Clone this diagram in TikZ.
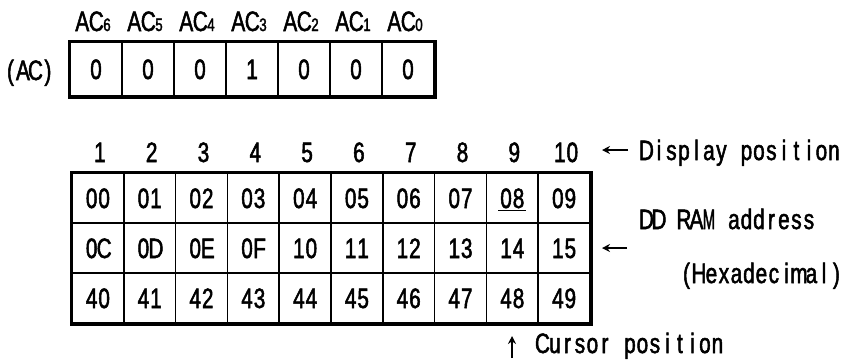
\documentclass[tikz,border=0pt]{standalone}
\usepackage{fontspec}
\newfontfamily\jfont[FakeStretch=0.74,FakeBold=1.8]{Liberation Sans}
\usetikzlibrary{arrows.meta}
\newlength\monow
\setlength\monow{12.5pt}
\def\monoloop#1{\ifx#1\relax\else\makebox[\monow][c]{#1}\expandafter\monoloop\fi}
\newcommand\mono[1]{\expandafter\monoloop#1\relax}
\newcommand\narrowM{\scalebox{0.72}[1]{M}}
\begin{document}
\begin{tikzpicture}[x=1pt,y=-1pt,
  lbl/.style={font=\fontsize{28}{28}\selectfont\jfont, inner sep=0pt, anchor=base},
  cell/.style={draw, line width=1.5pt, font=\fontsize{28}{28}\selectfont\jfont, inner sep=0pt,
    minimum width=51.8pt, minimum height=50pt, text height=20pt, text depth=0pt},
  accell/.style={cell, minimum width=52pt, minimum height=54pt},
  outer/.style={line width=3.5pt},
  arr/.style={line width=2pt, -{Stealth[length=8pt,width=8pt]}}]
\useasboundingbox (0,0) rectangle (848,360);
% AC register
\foreach \s [count=\i] in {6,5,4,3,2,1,0}
  \node[lbl] (acl\i) at ({70+52*(\i-0.5)-3},31) {\setlength\monow{14pt}\mono{AC}{\fontsize{18}{18}\selectfont\jfont\s}};
\node[lbl, anchor=base west] (aclabel) at (4,80) {\mono{(AC)}};
\foreach \v [count=\i] in {0,0,0,1,0,0,0}
  \node[accell] (ac\i) at ({70+52*(\i-0.5)},69) {\v};
\draw[outer] (ac1.north west) rectangle (ac7.south east);
% display positions
\foreach \i in {1,...,10}
  \node[lbl] (pos\i) at ({72+51.8*(\i-0.5)+2},162) {\mono{\i}};
% DD RAM table
\foreach \v [count=\i] in {00,01,02,03,04,05,06,07,08,09}
  \node[cell] (a\i) at ({72+51.8*(\i-0.5)},198) {\mono{\v}};
\foreach \v [count=\i] in {0C,0D,0E,0F,10,11,12,13,14,15}
  \node[cell] (b\i) at ({72+51.8*(\i-0.5)},248) {\mono{\v}};
\foreach \v [count=\i] in {40,41,42,43,44,45,46,47,48,49}
  \node[cell] (c\i) at ({72+51.8*(\i-0.5)},298) {\mono{\v}};
\draw[outer] (a1.north west) rectangle (c10.south east);
\draw[line width=1.5pt] ([xshift=-14pt,yshift=-12.5pt]a9.center) -- ([xshift=14pt,yshift=-12.5pt]a9.center);
% labels
\node[lbl, anchor=base west] (disp) at (640,160) {\mono{Display~position}};
\node[lbl, anchor=base west] (dd) at (640,229) {\mono{DD~RA{\narrowM}~address}};
\node[lbl, anchor=base west] (hex) at (680,283) {\mono{(Hexadecimal)}};
\node[lbl, anchor=base west] (cur) at (536,353) {\mono{Cursor~position}};
% arrows
\coordinate (d1) at (628,150); \coordinate (d2) at (602,150);
\draw[arr] (d1) -- (d2);
\coordinate (e1) at (627,248); \coordinate (e2) at (602,248);
\draw[arr] (e1) -- (e2);
\coordinate (f1) at (512,358); \coordinate (f2) at (512,336);
\draw[arr] (f1) -- (f2);
\end{tikzpicture}
\end{document}
